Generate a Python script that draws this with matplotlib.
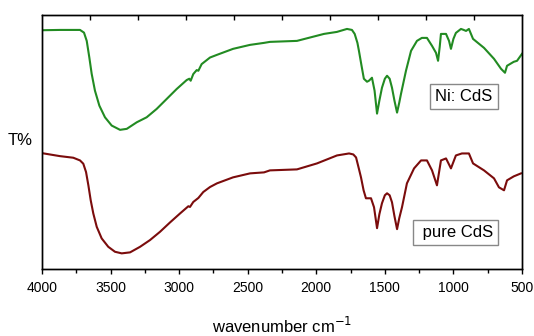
import matplotlib
matplotlib.use("Agg")
import matplotlib.pyplot as plt
from matplotlib.ticker import MultipleLocator

# ─────────────────────────────────────────────
#  Dados (lidos do espectro FTIR, T% arbitrário)
# ─────────────────────────────────────────────
wn_ni = [4000, 3869, 3723, 3694, 3674, 3655, 3638, 3614, 3582, 3541, 3492,
         3431, 3382, 3309, 3237, 3164, 3091, 3018, 2945, 2926, 2916, 2897,
         2872, 2860, 2836, 2775, 2724, 2607, 2483, 2381, 2338, 2141,
         1944, 1850, 1776, 1740, 1720, 1700, 1689, 1670, 1653, 1630, 1616,
         1594, 1575, 1557, 1540, 1521, 1500, 1484, 1465, 1448, 1430,
         1411, 1395, 1382, 1346, 1309, 1266, 1230, 1193, 1156, 1127, 1112,
         1100, 1091, 1054, 1032, 1018, 1000, 982, 945, 925, 908, 887, 857,
         777, 704, 653, 624, 609, 560, 536, 500]
t_ni = [238.7, 239, 239, 236.3, 228, 211.3, 195, 178, 163, 151.3, 143,
        138.7, 139.7, 146.3, 151.3, 159.7, 169.7, 179.7, 188.7, 190, 188, 194.7,
        198.7, 198, 204.7, 211.3, 214, 220, 224, 226, 227, 228,
        235, 237, 240, 239, 235, 226, 218, 203, 190, 187, 188,
        191, 178, 155, 168, 181, 190, 193, 190, 181, 168,
        156, 166, 175, 198, 218, 228, 231, 231, 223, 216, 208,
        222, 235, 235, 228, 220, 230, 236, 240, 239, 238, 240, 230,
        221, 210, 200, 196, 203, 207, 208, 215]

wn_pure = [4000, 3869, 3772, 3723, 3699, 3679, 3662, 3645, 3626, 3601, 3565,
           3517, 3468, 3419, 3358, 3285, 3213, 3140, 3067, 2994, 2933, 2921,
           2897, 2860, 2824, 2775, 2724, 2607, 2483, 2381, 2338, 2141, 1995,
           1849, 1761, 1730, 1710, 1690, 1674, 1655, 1638, 1601, 1579, 1557,
           1540, 1521, 1500, 1484, 1465, 1448, 1430, 1411, 1395, 1375, 1339,
           1287, 1236, 1193, 1156, 1120, 1091, 1054, 1018, 982, 938, 887,
           857, 777, 704, 668, 631, 609, 560, 507]
t_pure = [115.3, 112.3, 110.7, 108, 104.7, 96.3, 83, 68, 54.7, 41.3, 29.7,
          21.3, 16.3, 14.7, 15.7, 21.3, 28, 36.3, 45.7, 54.7, 62, 61.3,
          66.3, 70.3, 76.3, 81.3, 85, 91, 95, 96, 98, 99, 105,
          113, 115, 114, 111, 100, 91, 78, 70, 70, 61, 40,
          54, 65, 73, 75, 73, 66, 52, 39, 50, 61, 85,
          100, 108, 108, 98, 83, 108, 110, 100, 113, 115, 115,
          105, 98, 90, 81, 78, 88, 92, 95]

top_ticks = [3650, 3300, 2950, 2600, 2250, 1900, 1550, 1200, 850]

# ─────────────────────────────────────────────
#  Gráfico
# ─────────────────────────────────────────────
plt.rcParams["font.family"] = ["Liberation Sans", "DejaVu Sans"]

fig = plt.figure(figsize=(5.34, 3.36), dpi=100)
ax = fig.add_axes([0.0787, 0.1994, 0.8988, 0.756])

ax.plot(wn_ni, t_ni, color="#228b22", linewidth=1.5)
ax.plot(wn_pure, t_pure, color="#7b0c0c", linewidth=1.5)

ax.set_xlim(4000, 500)
ax.set_ylim(-1, 254)
ax.set_yticks([])

ax.xaxis.set_major_locator(MultipleLocator(500))
ax.xaxis.set_minor_locator(MultipleLocator(250))
ax.tick_params(axis="x", which="major", direction="out", length=3.8,
               width=1, labelsize=10, pad=5)
ax.tick_params(axis="x", which="minor", direction="out", length=2.6, width=1)

# ticks do topo (para dentro)
ax_top = ax.twiny()
ax_top.set_xlim(ax.get_xlim())
ax_top.set_xticks(top_ticks)
ax_top.set_xticklabels([])
ax_top.tick_params(axis="x", direction="in", length=3.8, width=1)

for a in (ax, ax_top):
    for s in a.spines.values():
        s.set_linewidth(1)

ax.set_xlabel("wavenumber cm$^{-1}$", fontsize=12, labelpad=15)
fig.text(0.015, 0.583, "T%", fontsize=12, va="center", ha="left")

caixa = dict(boxstyle="square,pad=0.3", facecolor="white",
             edgecolor="#888888", linewidth=1)
ax.text(0.939, 0.68, "Ni: CdS", transform=ax.transAxes, fontsize=12,
        ha="right", va="center", bbox=caixa)
ax.text(0.939, 0.145, " pure CdS", transform=ax.transAxes, fontsize=12,
        ha="right", va="center", bbox=caixa)

fig.savefig("out.png", dpi=100)
plt.close("all")
